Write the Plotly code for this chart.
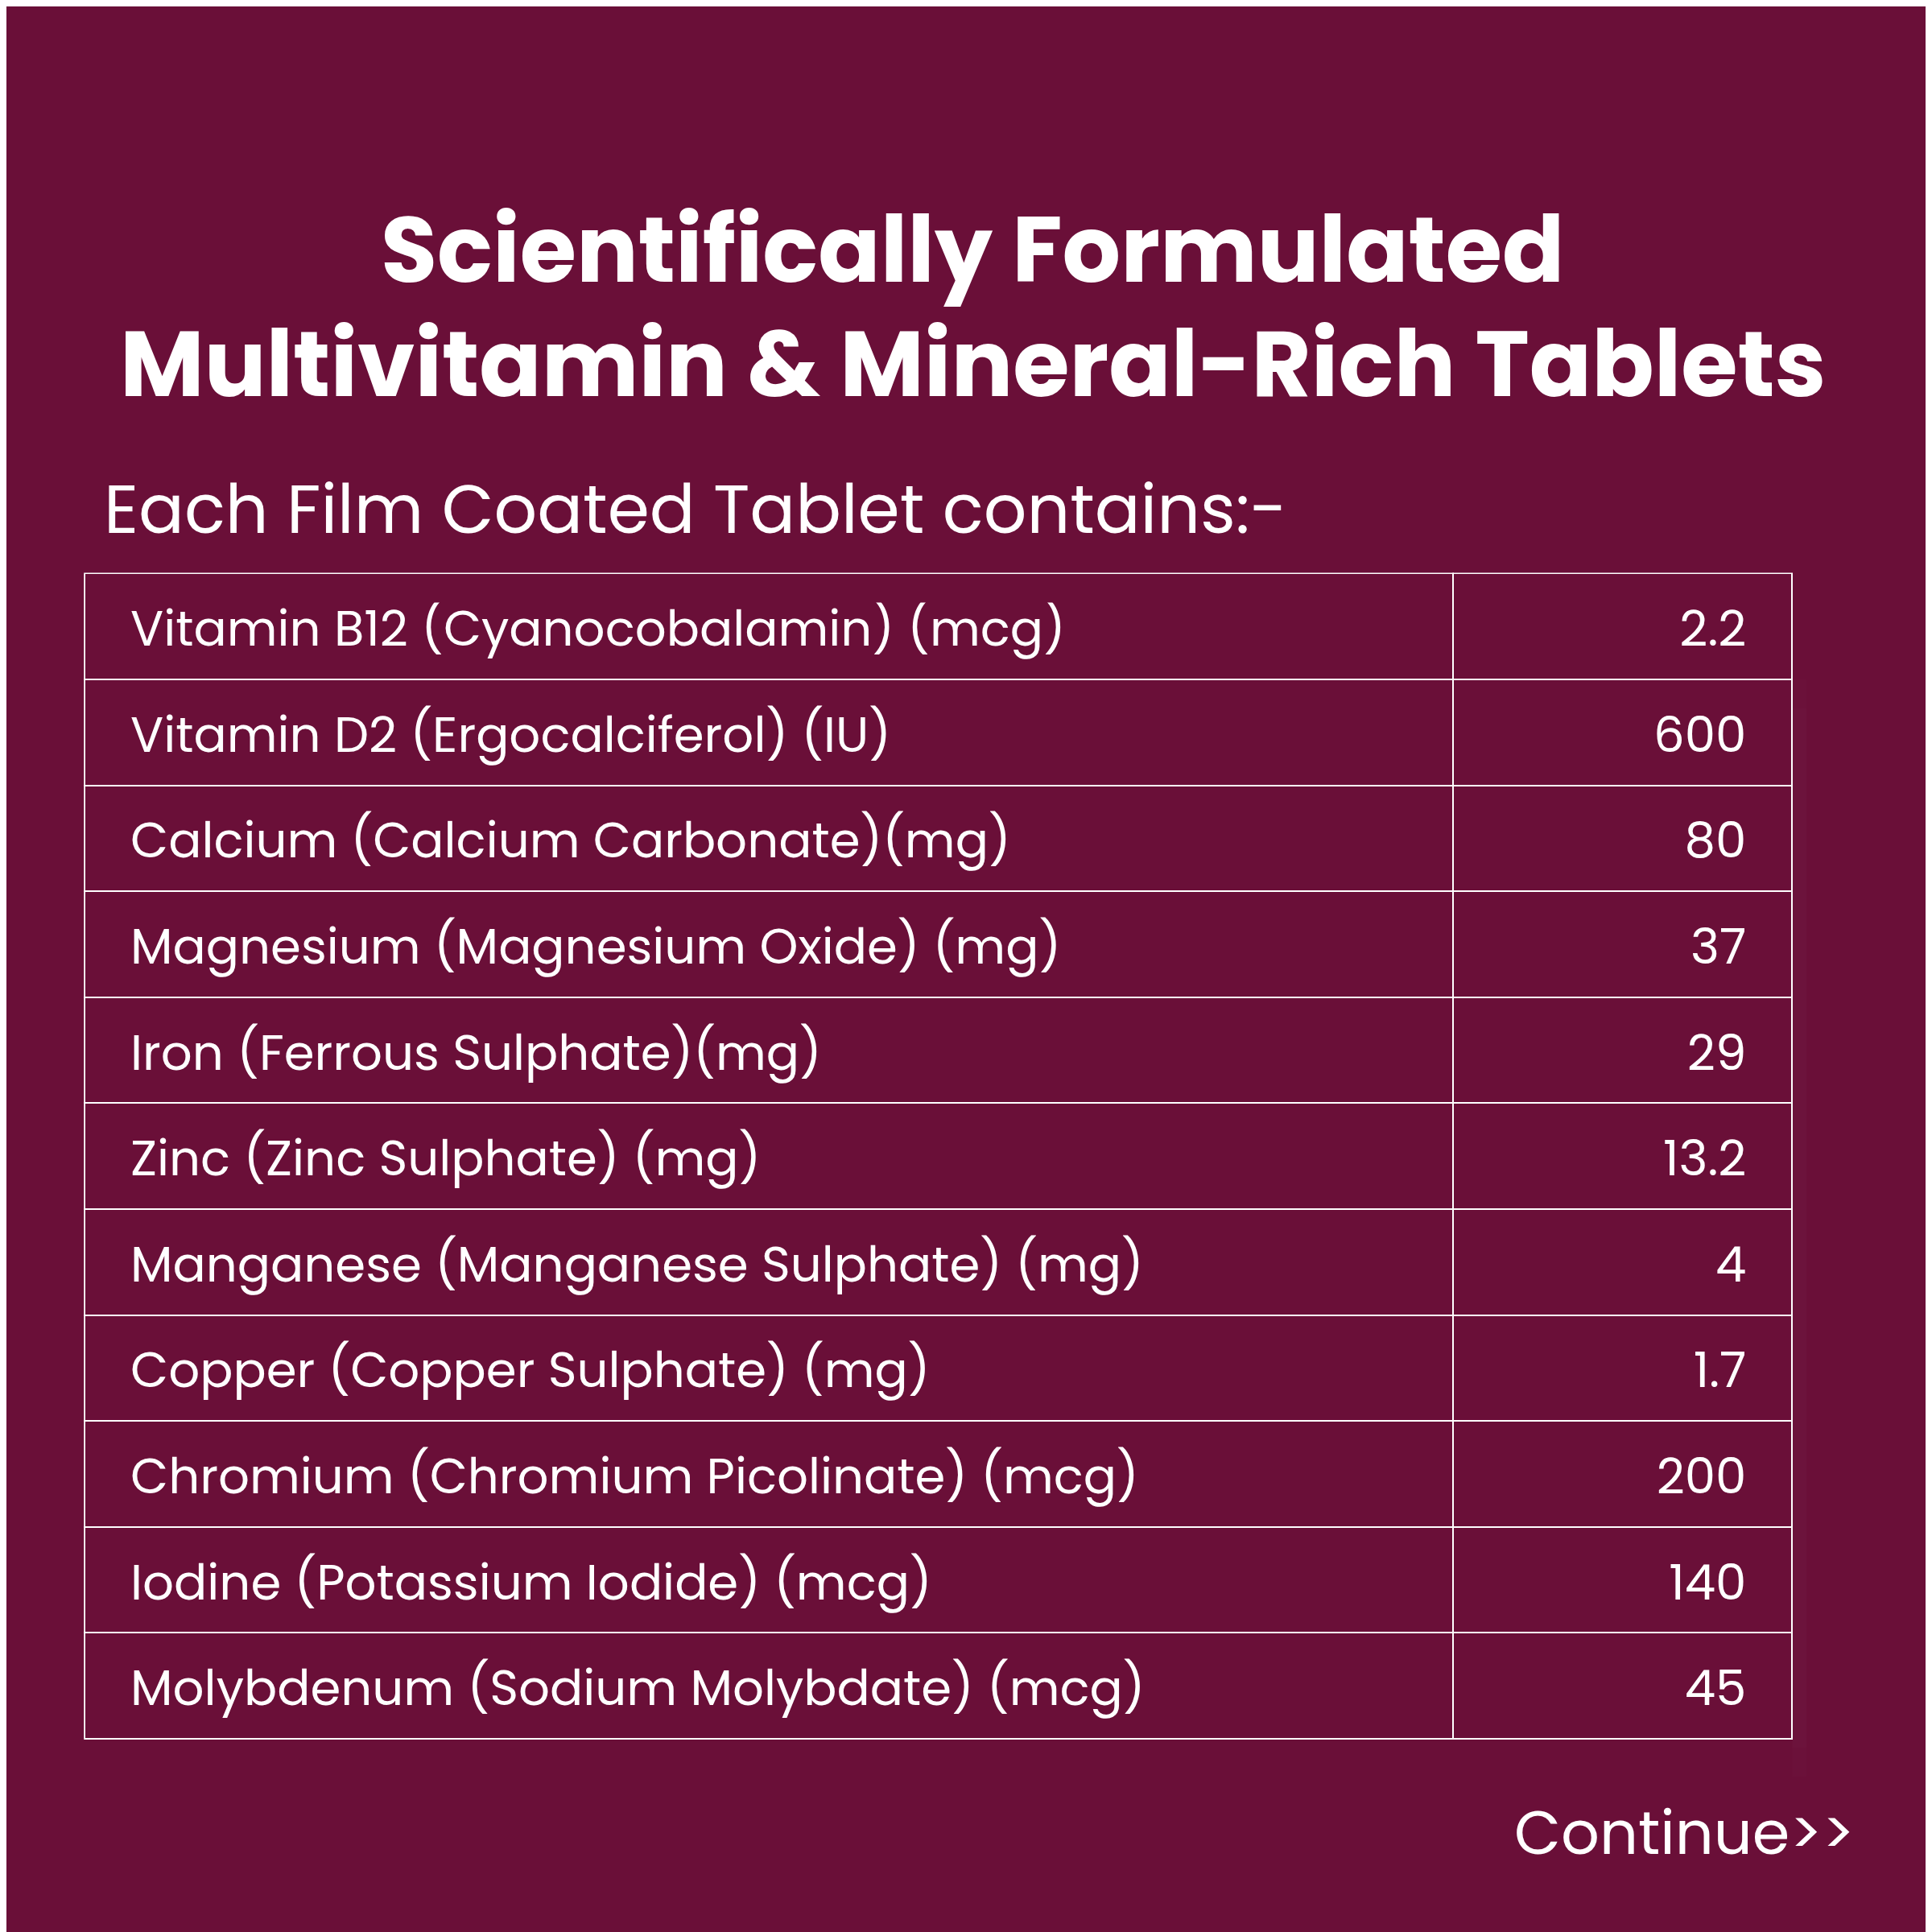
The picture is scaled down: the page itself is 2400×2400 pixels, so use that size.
import plotly.graph_objects as go

title_lines = ["Scientifically Formulated", "Multivitamin & Mineral-Rich Tablets"]
subtitle = "Each Film Coated Tablet contains:-"
nutrients = ["Vitamin B12 (Cyanocobalamin) (mcg)", "Vitamin D2 (Ergocalciferol) (IU)",
             "Calcium (Calcium Carbonate)(mg)", "Magnesium (Magnesium Oxide) (mg)",
             "Iron (Ferrous Sulphate)(mg)", "Zinc (Zinc Sulphate) (mg)",
             "Manganese (Manganese Sulphate) (mg)", "Copper (Copper Sulphate) (mg)",
             "Chromium (Chromium Picolinate) (mcg)", "Iodine (Potassium Iodide) (mcg)",
             "Molybdenum (Sodium Molybdate) (mcg)"]
amounts = ["2.2", "600", "80", "37", "29", "13.2", "4", "1.7", "200", "140", "45"]
footer = "Continue>>"

BG = "#6A0F38"
FONT = "Poppins, Lato, 'Open Sans', sans-serif"
pad_l = "\u00a0" * 3
pad_r = "\u00a0" * 3

labels = [pad_l + n for n in nutrients]
vals = [a + pad_r for a in amounts]
empty = [""] * len(nutrients)

XD = [0.0405, 0.9245]
YD = [0.0985, 0.7065]
H = 131.6
shift = 36 / 2400

# grid table (lines only)
fig = go.Figure(go.Table(
    domain=dict(x=XD, y=YD),
    columnwidth=[1111, 275],
    header=dict(values=["", ""], height=H, fill_color=BG, line=dict(color="white", width=2)),
    cells=dict(values=[empty[1:], empty[1:]], height=H, fill_color=BG,
               line=dict(color="white", width=2)),
))
# text table (shifted down for vertical centring)
fig.add_trace(go.Table(
    domain=dict(x=XD, y=[YD[0] - shift, YD[1] - shift]),
    columnwidth=[1111, 275],
    header=dict(values=[labels[0], vals[0]], height=H, align=["left", "right"],
                fill_color="rgba(0,0,0,0)", line=dict(color="rgba(0,0,0,0)", width=0),
                font=dict(color="white", size=61, family=FONT)),
    cells=dict(values=[labels[1:], vals[1:]], height=H, align=["left", "right"],
               fill_color="rgba(0,0,0,0)", line=dict(color="rgba(0,0,0,0)", width=0),
               font=dict(color="white", size=61, family=FONT)),
))

for txt, yc in zip(title_lines, [302, 444]):
    fig.add_annotation(x=0.5, y=1 - yc / 2400, xref="paper", yref="paper",
                       yanchor="middle", text=txt, showarrow=False,
                       font=dict(size=114, color="white", family=FONT, weight="bold"))
fig.add_annotation(x=119 / 2400, y=1 - 624 / 2400, xref="paper", yref="paper",
                   xanchor="left", yanchor="middle", text=subtitle, showarrow=False,
                   font=dict(size=84, color="white", family=FONT))
fig.add_annotation(x=2298 / 2400, y=1 - 2268 / 2400, xref="paper", yref="paper",
                   xanchor="right", yanchor="middle", text=footer, showarrow=False,
                   font=dict(size=75, color="white", family=FONT))

fig.update_layout(width=2400, height=2400, paper_bgcolor=BG, plot_bgcolor=BG,
                  margin=dict(l=0, r=0, t=0, b=0))
fig.write_html("out.html")
